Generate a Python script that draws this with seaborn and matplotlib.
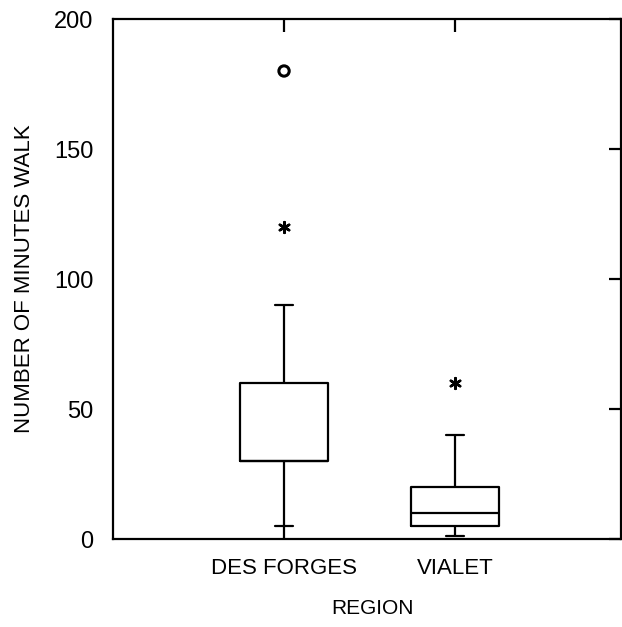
import matplotlib
matplotlib.use("Agg")
import matplotlib.pyplot as plt
import seaborn as sns
import pandas as pd

# ----------------------------------------------------------------------
# Data (minutes walked, by region)
# ----------------------------------------------------------------------
regions = ["DES FORGES", "VIALET"]
# five-number summaries: lower whisker, Q1, median, Q3, upper whisker
des_forges_minutes = [5, 30, 30, 60, 90]
vialet_minutes = [1, 5, 10, 20, 40]
# whisker stem of DES FORGES runs on down to the axis
des_forges_stem_floor = 0

# outside values (asterisk) and far outside values (circle)
outside_region = ["DES FORGES", "VIALET"]
outside_minutes = [120, 60]
far_region = ["DES FORGES"]
far_minutes = [180]

df = pd.DataFrame({
    "region": [regions[0]] * len(des_forges_minutes) + [regions[1]] * len(vialet_minutes),
    "minutes": des_forges_minutes + vialet_minutes,
})

# ----------------------------------------------------------------------
# Plot
# ----------------------------------------------------------------------
sns.set_style("white")
plt.rcParams["font.family"] = ["Liberation Sans", "DejaVu Sans"]
plt.rcParams["text.color"] = "black"
plt.rcParams["axes.labelcolor"] = "black"

fig = plt.figure(figsize=(6.22, 6.27), dpi=100)
ax = fig.add_axes([113 / 622, 88 / 627, 508 / 622, 520 / 627])

lw = 1.6
sns.boxplot(data=df, x="region", y="minutes", order=regions, ax=ax,
            width=0.51, whis=(0, 100), showfliers=False, fill=False,
            color="black", linecolor="black", linewidth=lw,
            capwidths=0.11)

# stem below the lower cap of DES FORGES
ax.vlines(0, des_forges_stem_floor, des_forges_minutes[0], color="black",
          lw=lw, zorder=4, clip_on=False)

# outliers
pos = {r: i for i, r in enumerate(regions)}
ax.scatter([pos[r] for r in outside_region], outside_minutes, marker=(6, 2, 0),
           s=60, color="black", linewidths=1.8, zorder=3)
ax.scatter([pos[r] for r in far_region], far_minutes, marker="o", s=55,
           facecolors="none", edgecolors="black", linewidths=2.2, zorder=3)

ax.set_xlim(-1.0, 1.97)
ax.set_ylim(0, 200)
ax.set_yticks([0, 50, 100, 150, 200])
ax.set_xticks([0, 1])
ax.set_xticklabels(regions)

for s in ax.spines.values():
    s.set_visible(True)
    s.set_color("black")
    s.set_linewidth(lw)

ax.tick_params(axis="both", direction="in", length=9, width=lw, colors="black",
               top=True, right=True)
ax.tick_params(axis="x", pad=14, labelsize=16)
ax.tick_params(axis="y", pad=14, labelsize=17)

ax.set_xlabel("REGION", fontsize=15, labelpad=16)
ax.xaxis.set_label_coords(0.51, -0.115)
ax.set_ylabel("NUMBER OF MINUTES WALK", fontsize=16, labelpad=14)

fig.savefig("out.png", dpi=100, facecolor="white")
